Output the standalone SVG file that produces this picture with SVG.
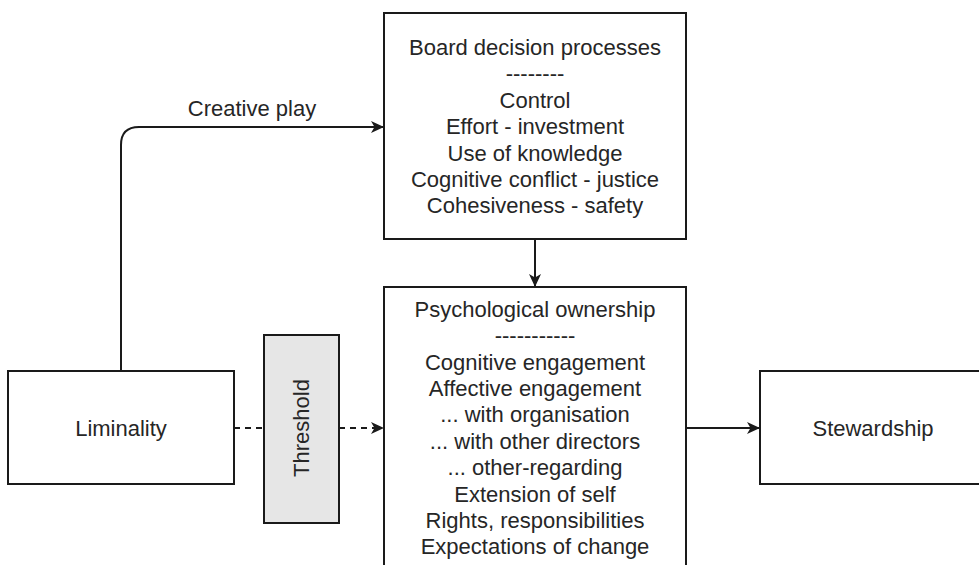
<svg xmlns="http://www.w3.org/2000/svg" width="979" height="565" viewBox="0 0 979 565">
  <style>
    .box { fill: #ffffff; stroke: #1a1a1a; stroke-width: 2; }
    .gate { fill: #e6e6e6; stroke: #1a1a1a; stroke-width: 2; }
    .lbl { font-family: "Liberation Sans", Arial, sans-serif; font-size: 22px; fill: #262626; text-anchor: middle; }
    .edge { fill: none; stroke: #1a1a1a; stroke-width: 2; }
    .dash { stroke-dasharray: 6 5; }
  </style>
  <defs>
    <marker id="arrow" markerUnits="userSpaceOnUse" markerWidth="14" markerHeight="12" refX="13" refY="6" orient="auto">
      <path d="M0,0 L13,6 L0,12 L3.5,6 Z" fill="#1a1a1a"/>
    </marker>
  </defs>

  <rect width="979" height="565" fill="#ffffff"/>

  <!-- connectors -->
  <g id="connectors">
    <path class="edge" d="M121,371 L121,145 Q121,127 139,127 L384,127" marker-end="url(#arrow)"/>
    <text class="lbl" x="252" y="116">Creative play</text>
    <path class="edge" d="M535,239 L535,287" marker-end="url(#arrow)"/>
    <path class="edge dash" d="M234,428 L264,428"/>
    <path class="edge dash" d="M339,428 L384,428" marker-end="url(#arrow)"/>
    <path class="edge" d="M686,428 L760,428" marker-end="url(#arrow)"/>
  </g>

  <g id="board-decision">
    <rect class="box" x="384" y="13" width="302" height="226"/>
    <text class="lbl" x="535" y="55">Board decision processes</text>
    <text class="lbl" x="535" y="81">--------</text>
    <text class="lbl" x="535" y="108">Control</text>
    <text class="lbl" x="535" y="134">Effort - investment</text>
    <text class="lbl" x="535" y="161">Use of knowledge</text>
    <text class="lbl" x="535" y="187">Cognitive conflict - justice</text>
    <text class="lbl" x="535" y="213">Cohesiveness - safety</text>
  </g>

  <g id="psych-ownership">
    <rect class="box" x="384" y="287" width="302" height="300"/>
    <text class="lbl" x="535" y="317">Psychological ownership</text>
    <text class="lbl" x="535" y="343">-----------</text>
    <text class="lbl" x="535" y="370">Cognitive engagement</text>
    <text class="lbl" x="535" y="396">Affective engagement</text>
    <text class="lbl" x="535" y="422">... with organisation</text>
    <text class="lbl" x="535" y="449">... with other directors</text>
    <text class="lbl" x="535" y="475">... other-regarding</text>
    <text class="lbl" x="535" y="502">Extension of self</text>
    <text class="lbl" x="535" y="528">Rights, responsibilities</text>
    <text class="lbl" x="535" y="554">Expectations of change</text>
  </g>

  <g id="liminality">
    <rect class="box" x="8" y="371" width="226" height="113"/>
    <text class="lbl" x="121" y="436">Liminality</text>
  </g>

  <g id="threshold">
    <rect class="gate" x="264" y="335" width="75" height="188"/>
    <text class="lbl" transform="translate(309,428) rotate(-90)" x="0" y="0">Threshold</text>
  </g>

  <g id="stewardship">
    <rect class="box" x="760" y="371" width="226" height="113"/>
    <text class="lbl" x="873" y="436">Stewardship</text>
  </g>
</svg>
